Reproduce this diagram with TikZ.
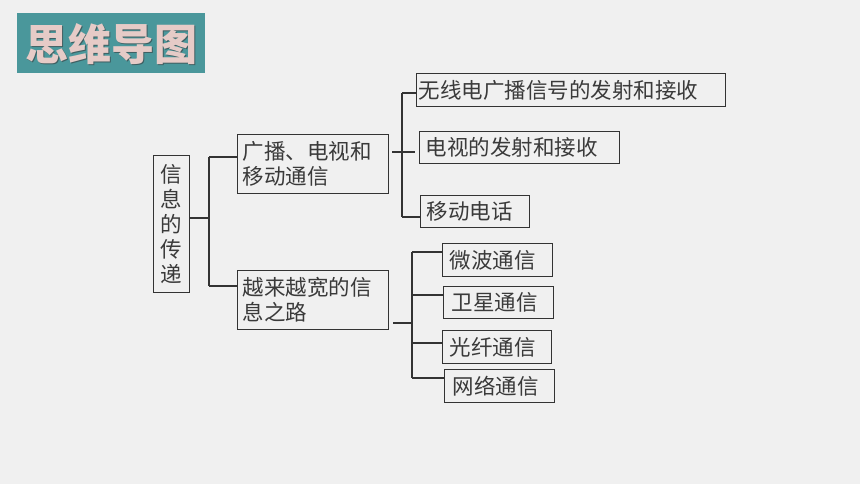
\documentclass[tikz,border=0pt]{standalone}
\usepackage{fontspec}
\newfontfamily\cjk{Noto Sans CJK SC}
\definecolor{bgc}{HTML}{F0F0F0}
\definecolor{teal1}{HTML}{4A979B}
\definecolor{pinkt}{HTML}{E6CBC7}
\definecolor{shad}{HTML}{3F5F62}
\definecolor{lc}{HTML}{333333}
\definecolor{tc}{HTML}{3A3A3A}
\begin{document}
\begin{tikzpicture}[x=1pt,y=-1pt,
  box/.style={draw=lc, line width=1.2pt, inner xsep=5pt, inner ysep=0pt, anchor=north west,
    font=\cjk\fontsize{21.5}{25}\selectfont, text=tc, align=left},
  ln/.style={draw=lc, line width=1.2pt}]
\useasboundingbox (0,0) rectangle (860,484);
\fill[bgc] (0,0) rectangle (860,484);
% title
\fill[teal1] (17,13) rectangle (205,73);
\node[font=\cjk\bfseries\fontsize{43}{43}\selectfont, text=shad] at (112.5,45.5) {思维导图};
\node (title) [font=\cjk\bfseries\fontsize{43}{43}\selectfont, text=pinkt] at (111,44) {思维导图};
% root
\node (root) [box, inner xsep=0pt, minimum width=36pt, minimum height=137pt, text width=36pt, align=center] at (153,155) {信\\息\\的\\传\\递};
% branches
\node (b1) [box, minimum width=151pt, minimum height=59pt, text width=141pt] at (237,134) {广播、电视和\\移动通信};
\node (b2) [box, minimum width=151pt, minimum height=59pt, text width=141pt] at (237,270) {越来越宽的信\\息之路};
% leaves branch 1
\node (l1) [box, inner xsep=2pt, minimum width=309pt, minimum height=33pt, text width=305pt] at (416,73) {无线电广播信号的发射和接收};
\node (l2) [box, inner xsep=6pt, minimum width=200pt, minimum height=32pt, text width=188pt] at (419,131) {电视的发射和接收};
\node (l3) [box, inner xsep=6pt, minimum width=109pt, minimum height=32pt, text width=97pt] at (420,195) {移动电话};
% leaves branch 2
\node (m1) [box, inner xsep=7pt, minimum width=110pt, minimum height=33pt, text width=96pt] at (442,243) {微波通信};
\node (m2) [box, inner xsep=8pt, minimum width=110pt, minimum height=32pt, text width=94pt] at (443,286) {卫星通信};
\node (m3) [box, inner xsep=7pt, minimum width=109pt, minimum height=33pt, text width=95pt] at (442,330) {光纤通信};
\node (m4) [box, inner xsep=8pt, minimum width=110pt, minimum height=33pt, text width=94pt] at (444,369) {网络通信};
% connectors root
\coordinate (j0) at (209,218);
\coordinate (jt) at (209,157);
\coordinate (jb) at (209,286);
\draw[ln] (root.east |- j0) -- (j0);
\draw[ln] (jt) -- (jb);
\draw[ln] (jt) -- (jt -| b1.west);
\draw[ln] (jb) -- (jb -| b2.west);
% connectors branch 1
\coordinate (k0) at (392,152);
\coordinate (k1) at (415,152);
\coordinate (kt) at (402,93);
\coordinate (kb) at (402,217);
\draw[ln] (k0) -- (k1);
\draw[ln] (kt) -- (kb);
\draw[ln] (kt) -- (kt -| l1.west);
\draw[ln] (kb) -- (kb -| l3.west);
% connectors branch 2
\coordinate (n0) at (393,323);
\coordinate (n1) at (412,323);
\coordinate (nt) at (412,252);
\coordinate (n2) at (412,295);
\coordinate (n3) at (412,343);
\coordinate (nb) at (412,378);
\draw[ln] (n0) -- (n1);
\draw[ln] (nt) -- (nb);
\draw[ln] (nt) -- (nt -| m1.west);
\draw[ln] (n2) -- (n2 -| m2.west);
\draw[ln] (n3) -- (n3 -| m3.west);
\draw[ln] (nb) -- (nb -| m4.west);
\end{tikzpicture}
\end{document}
